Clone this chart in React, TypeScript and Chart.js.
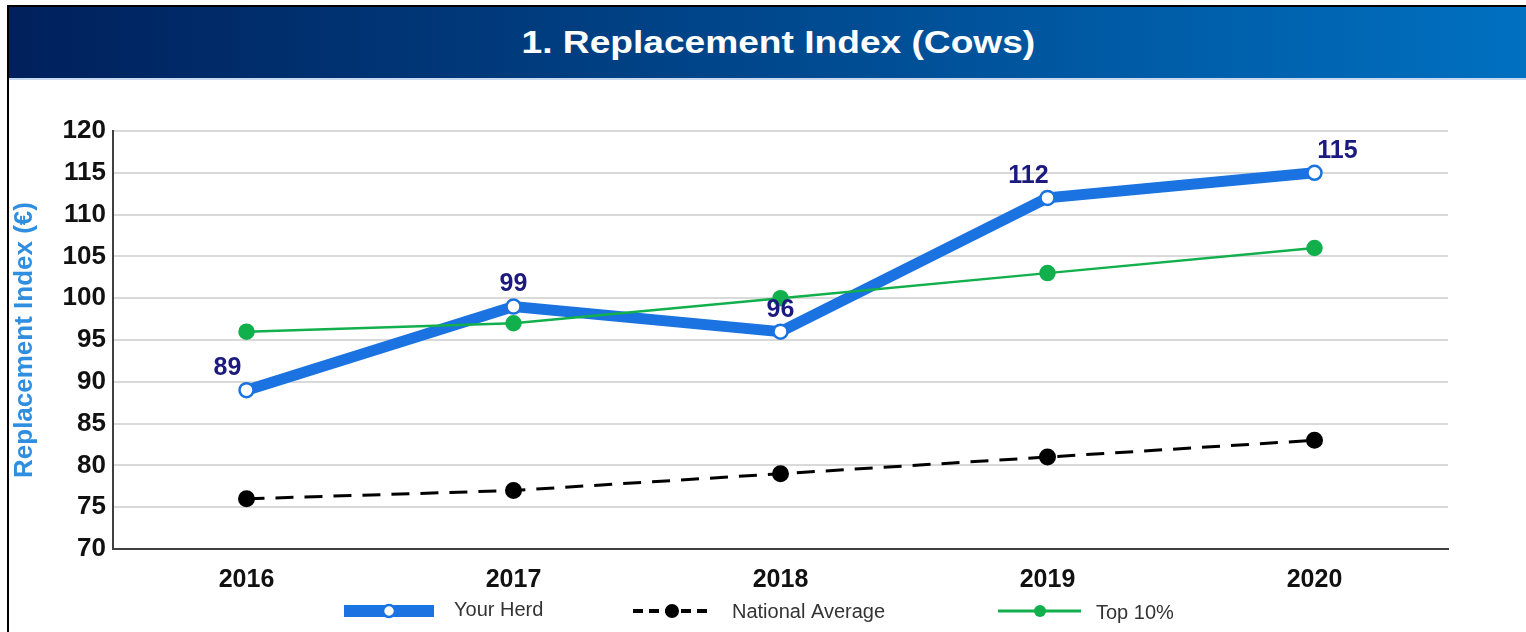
import React, { useEffect, useRef } from "react";
import { Chart, registerables } from "chart.js";

Chart.register(...registerables);

const years = ["2016", "2017", "2018", "2019", "2020"];
const yourHerd = [89, 99, 96, 112, 115];
const nationalAverage = [76, 77, 79, 81, 83];
const top10 = [96, 97, 100, 103, 106];
const herdLabelAlign = ["left", "center", "center", "left", "right"];

const BLUE = "#1a73e0";
const GREEN = "#12b04c";
const NAVY = "#1c1a7e";
const FONT = "'Liberation Sans', Arial, sans-serif";

const labelPlugin = {
  id: "herdLabels",
  afterDatasetsDraw(chart: any) {
    const ctx = chart.ctx;
    const meta = chart.getDatasetMeta(0);
    ctx.save();
    ctx.font = `bold 25px ${FONT}`;
    ctx.fillStyle = NAVY;
    ctx.textAlign = "center";
    ctx.textBaseline = "middle";
    meta.data.forEach((pt: any, i: number) => {
      const a = herdLabelAlign[i];
      const dx = a === "left" ? -19 : a === "right" ? 23 : 0;
      ctx.fillText(String(yourHerd[i]), pt.x + dx, pt.y - 22);
    });
    ctx.restore();
  },
};

const legendPlugin = {
  id: "customLegend",
  afterDraw(chart: any) {
    const ctx = chart.ctx;
    const y = 531;
    ctx.save();
    ctx.font = `20px ${FONT}`;
    ctx.fillStyle = "#333333";
    ctx.textBaseline = "middle";
    ctx.textAlign = "left";
    // Your Herd
    ctx.strokeStyle = BLUE;
    ctx.lineWidth = 12;
    ctx.beginPath();
    ctx.moveTo(335, y);
    ctx.lineTo(425, y);
    ctx.stroke();
    ctx.beginPath();
    ctx.arc(380, y, 6, 0, Math.PI * 2);
    ctx.fillStyle = "#ffffff";
    ctx.fill();
    ctx.lineWidth = 2.5;
    ctx.stroke();
    ctx.fillStyle = "#333333";
    ctx.fillText("Your Herd", 445, y - 1);
    // National Average
    ctx.strokeStyle = "#000000";
    ctx.lineWidth = 4;
    ctx.setLineDash([10, 6]);
    ctx.beginPath();
    ctx.moveTo(624, y);
    ctx.lineTo(702, y);
    ctx.stroke();
    ctx.setLineDash([]);
    ctx.beginPath();
    ctx.arc(663, y, 7, 0, Math.PI * 2);
    ctx.fillStyle = "#000000";
    ctx.fill();
    ctx.fillStyle = "#333333";
    ctx.fillText("National Average", 723, y + 1);
    // Top 10%
    ctx.strokeStyle = GREEN;
    ctx.lineWidth = 3;
    ctx.beginPath();
    ctx.moveTo(989, y);
    ctx.lineTo(1072, y);
    ctx.stroke();
    ctx.beginPath();
    ctx.arc(1031, y, 6, 0, Math.PI * 2);
    ctx.fillStyle = GREEN;
    ctx.fill();
    ctx.fillStyle = "#333333";
    ctx.fillText("Top 10%", 1087, y + 2);
    ctx.restore();
  },
};

export default function App() {
  const ref = useRef<HTMLCanvasElement>(null);

  useEffect(() => {
    if (!ref.current) return;
    const chart = new Chart(ref.current, {
      type: "line",
      data: {
        labels: years,
        datasets: [
          {
            label: "Your Herd",
            data: yourHerd,
            borderColor: BLUE,
            borderWidth: 11,
            pointRadius: 7,
            pointBorderWidth: 2.5,
            pointBackgroundColor: "#ffffff",
            pointBorderColor: BLUE,
            order: 2,
          },
          {
            label: "National Average",
            data: nationalAverage,
            borderColor: "#000000",
            borderWidth: 3,
            borderDash: [18, 11],
            pointRadius: 7,
            pointBackgroundColor: "#000000",
            pointBorderColor: "#000000",
            order: 1,
          },
          {
            label: "Top 10%",
            data: top10,
            borderColor: GREEN,
            borderWidth: 2.5,
            pointRadius: 7,
            pointBackgroundColor: GREEN,
            pointBorderColor: GREEN,
            order: 0,
          },
        ],
      },
      options: {
        animation: false,
        responsive: false,
        layout: { padding: { top: 51, right: 78, left: 0, bottom: 21 } },
        plugins: {
          legend: { display: false },
          tooltip: { enabled: false },
        },
        scales: {
          x: {
            offset: true,
            grid: { display: false, drawTicks: false },
            border: { color: "#404040", width: 2 },
            ticks: {
              color: "#111111",
              font: { family: FONT, size: 25, weight: "bold" },
              padding: 16,
            },
          },
          y: {
            min: 70,
            max: 120,
            afterFit: (s: any) => {
              s.width = 104;
            },
            grid: { color: "#d9d9d9", lineWidth: 2, drawTicks: false },
            border: { color: "#404040", width: 2 },
            ticks: {
              stepSize: 5,
              color: "#111111",
              font: { family: FONT, size: 26, weight: "bold" },
              padding: 7,
            },
            title: {
              display: true,
              text: "Replacement Index (€)",
              color: "#2f8ee0",
              font: { family: FONT, size: 26, weight: "bold" },
              padding: 0,
            },
          },
        },
      },
      plugins: [labelPlugin, legendPlugin],
    });
    return () => chart.destroy();
  }, []);

  return (
    <div
      style={{
        position: "absolute",
        left: 7,
        top: 5,
        width: 1519,
        height: 627,
        borderTop: "2px solid #000",
        borderLeft: "2px solid #000",
        boxSizing: "border-box",
        background: "#fff",
        overflow: "hidden",
      }}
    >
      <div
        style={{
          height: 71,
          background: "linear-gradient(to right, #00205b, #0070c0)",
          borderBottom: "2px solid #c6d9f0",
          boxSizing: "content-box",
          display: "flex",
          alignItems: "center",
          justifyContent: "center",
          color: "#ffffff",
          fontFamily: FONT,
          fontWeight: "bold",
          fontSize: 32,
          paddingLeft: 22,
        }}
      >
        <span style={{ display: "inline-block", transform: "scaleX(1.16)" }}>
          1. Replacement Index (Cows)
        </span>
      </div>
      <canvas ref={ref} width={1517} height={552} style={{ display: "block" }} />
    </div>
  );
}
